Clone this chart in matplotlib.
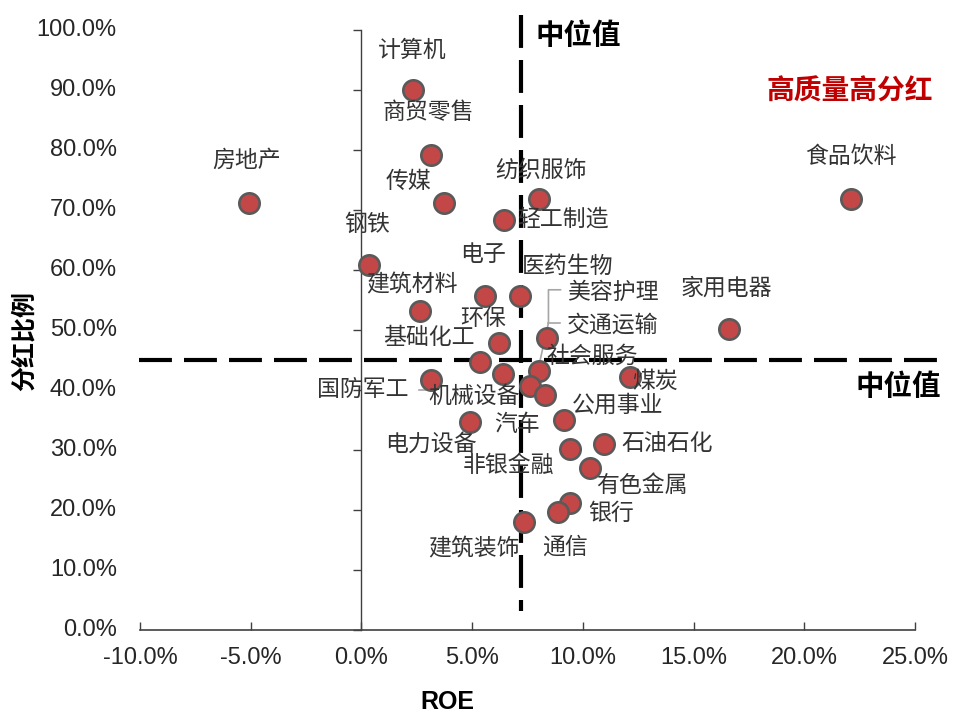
import matplotlib
matplotlib.use("Agg")
import matplotlib.pyplot as plt
from matplotlib.transforms import IdentityTransform, blended_transform_factory

plt.rcParams['font.family'] = ['Liberation Sans', 'Noto Sans CJK SC', 'DejaVu Sans']

# 行业 / ROE(%) / 分红比例(%)
industries = ['房地产', '计算机', '商贸零售', '传媒', '钢铁', '纺织服饰', '轻工制造', '食品饮料',
              '电子', '医药生物', '建筑材料', '家用电器', '交通运输', '环保', '基础化工', '美容护理',
              '煤炭', '国防军工', '社会服务', '机械设备', '公用事业', '汽车', '电力设备', '石油石化',
              '非银金融', '有色金属', '银行', '通信', '建筑装饰']
roe = [-5.09, 2.32, 3.12, 3.75, 0.33, 8.01, 6.46, 22.09,
       5.60, 7.18, 2.64, 16.59, 8.39, 6.20, 5.34, 8.04,
       12.15, 3.12, 7.63, 6.38, 9.17, 8.27, 4.89, 10.95,
       9.41, 10.31, 9.41, 8.87, 7.33]
payout = [71.1, 90.0, 79.2, 71.2, 60.8, 71.9, 68.3, 71.8,
          55.6, 55.6, 53.2, 50.2, 48.6, 47.9, 44.7, 43.2,
          42.2, 41.7, 40.6, 42.6, 35.0, 39.2, 34.6, 31.0,
          30.1, 26.95, 21.2, 19.7, 18.05]
roe_median = 7.21
payout_median = 45.0

xticks = [-10, -5, 0, 5, 10, 15, 20, 25]
yticks = [0, 10, 20, 30, 40, 50, 60, 70, 80, 90, 100]

# 标签偏移 (像素, 向右/向上)
label_offsets = {
    '房地产': (-2, 43), '计算机': (-1, 40), '商贸零售': (-2, 42), '传媒': (-36, 21),
    '钢铁': (-2, 41), '纺织服饰': (2, 28), '轻工制造': (58, 1), '食品饮料': (0, 43),
    '电子': (-2, 42), '医药生物': (47, 30), '建筑材料': (-8, 26), '家用电器': (-2, 41),
    '交通运输': (65, 13), '环保': (-16, 24), '基础化工': (-51, 24), '美容护理': (73, 78),
    '煤炭': (25, -5), '国防军工': (-68, -10), '社会服务': (62, 30), '机械设备': (-29, -22),
    '公用事业': (53, 15), '汽车': (-28, -30), '电力设备': (-39, -22), '石油石化': (63, 1),
    '非银金融': (-61, -16), '有色金属': (52, -17), '银行': (41, -11), '通信': (7, -35),
    '建筑装饰': (-50, -27),
}

fig = plt.figure(figsize=(9.6, 7.24), dpi=100)
ax = fig.add_axes([140 / 960, 94 / 724, 775 / 960, 600 / 724])
ax.set_xlim(-10, 25)
ax.set_ylim(0, 100)

axis_col = '#404040'
for s in ['top', 'right']:
    ax.spines[s].set_visible(False)
ax.spines['left'].set_position(('data', 0))
ax.spines['left'].set_color(axis_col)
ax.spines['bottom'].set_color(axis_col)
ax.spines['left'].set_linewidth(1.0)
ax.spines['bottom'].set_linewidth(1.2)

ax.set_xticks(xticks)
ax.set_xticklabels(['%.1f%%' % v for v in xticks])
ax.tick_params(axis='x', direction='in', length=6, width=1, color=axis_col,
               labelsize=17, labelcolor='#262626', pad=12)
ax.set_yticks(yticks)
ax.set_yticklabels([])
ax.tick_params(axis='y', direction='out', length=6, width=1, color=axis_col)
trans = blended_transform_factory(ax.transAxes, ax.transData)
for v in yticks:
    ax.text(-0.03, v, '%.1f%%' % v, transform=trans, ha='right', va='center',
            fontsize=17, color='#262626')

# 中位线
ax.plot([-10.05, 26.15], [payout_median, payout_median], color='black', lw=3,
        dashes=(7.9, 2.9), clip_on=False, zorder=2)
ax.plot([roe_median, roe_median], [102.5, 3.2], color='black', lw=3,
        dashes=(7.9, 2.9), clip_on=False, zorder=2)

ax.scatter(roe, payout, s=215, color='#C44747', edgecolor='#5a5a5a', linewidth=1.9, zorder=3)

cjk = ['Noto Sans CJK SC', 'DejaVu Sans']
for name, x, y in zip(industries, roe, payout):
    dx, dy = label_offsets[name]
    ax.annotate(name, (x, y), xytext=(dx, dy), textcoords='offset pixels',
                ha='center', va='center', fontsize=16.5, color='#333333',
                family=cjk, zorder=4)

# 引导线
fig.canvas.draw()
i = industries.index('美容护理')
px, py = ax.transData.transform((roe[i], payout[i]))
ax.add_line(plt.Line2D([px - 1, px + 9, px + 9, px + 21], [py + 3, py + 48, py + 81, py + 81],
                       transform=IdentityTransform(), color='#a6a6a6', lw=1.2, zorder=2))
ax.add_line(plt.Line2D([px + 9, px + 21], [py + 48, py + 48],
                       transform=IdentityTransform(), color='#a6a6a6', lw=1.2, zorder=2))
i = industries.index('国防军工')
px, py = ax.transData.transform((roe[i], payout[i]))
ax.add_line(plt.Line2D([px - 12, px, px], [py - 10, py - 10, py - 3],
                       transform=IdentityTransform(), color='#a6a6a6', lw=1.2, zorder=2))

fig.text(578 / 960, 1 - 36 / 724, '中位值', ha='center', va='center',
         fontsize=20.5, fontweight='bold', color='black', family=cjk)
fig.text(898 / 960, 1 - 387 / 724, '中位值', ha='center', va='center',
         fontsize=20.5, fontweight='bold', color='black', family=cjk)
fig.text(850 / 960, 1 - 92 / 724, '高质量高分红', ha='center', va='center',
         fontsize=20, fontweight='bold', color='#C00000', family=cjk)

fig.text(447 / 960, 1 - 702 / 724, 'ROE', ha='center', va='center', fontsize=18,
         fontweight='bold', color='black')
fig.text(25 / 960, 1 - 341 / 724, '分红比例', ha='center', va='center', fontsize=18,
         fontweight='bold', color='black', rotation=90, family=cjk)

fig.savefig('out.png', dpi=100)
